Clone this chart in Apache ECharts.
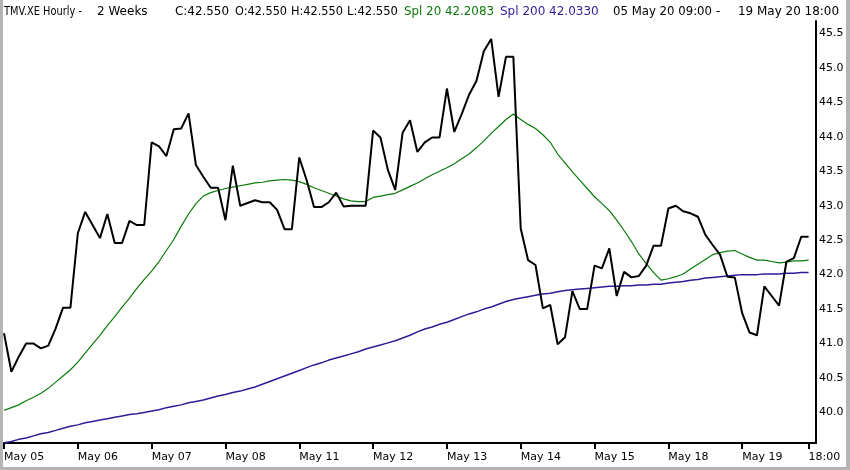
<!DOCTYPE html>
<html><head><meta charset="utf-8">
<script src="https://cdn.jsdelivr.net/npm/echarts@6/dist/echarts.min.js"></script>
<style>
html,body{margin:0;padding:0;background:#fff;}
#c{position:absolute;left:0;top:0;width:850px;height:470px;}
#frame{position:absolute;left:0;top:0;width:850px;height:470px;box-sizing:border-box;border-left:3px solid #b4b4b4;border-right:4px solid #b4b4b4;border-bottom:3px solid #b4b4b4;pointer-events:none;}
</style></head><body><div id="c"></div><div id="frame"></div>
<script>
const days = ['May 05','May 06','May 07','May 08','May 11','May 12','May 13','May 14','May 15','May 18','May 19'];
const hours = ['09:00','10:00','11:00','12:00','13:00','14:00','15:00','16:00','17:00','18:00'];
const closeValues = [
41.15,40.59,40.81,41.00,41.00,40.93,40.97,41.22,41.52,41.52,
42.60,42.91,42.72,42.53,42.88,42.46,42.46,42.78,42.72,42.72,
43.92,43.86,43.72,44.11,44.12,44.34,43.59,43.42,43.26,43.26,
42.79,43.58,43.00,43.04,43.08,43.05,43.05,42.94,42.66,42.66,
43.70,43.37,42.98,42.98,43.05,43.19,42.99,43.00,43.00,43.00,
44.09,43.99,43.52,43.23,44.06,44.24,43.78,43.92,43.99,43.99,
44.70,44.07,44.33,44.61,44.81,45.24,45.42,44.58,45.16,45.16,
42.67,42.21,42.14,41.51,41.56,40.99,41.09,41.76,41.50,41.50,
42.13,42.09,42.38,41.69,42.04,41.96,41.98,42.13,42.42,42.42,
42.96,43.00,42.92,42.89,42.84,42.58,42.43,42.29,41.97,41.96,
41.44,41.16,41.12,41.83,41.69,41.55,42.19,42.24,42.55,42.55];
const spl20Values = [
40.03,40.07,40.11,40.17,40.22,40.28,40.35,40.44,40.53,40.62,
40.73,40.86,40.99,41.12,41.26,41.39,41.53,41.66,41.80,41.93,
42.05,42.19,42.35,42.51,42.70,42.88,43.03,43.14,43.19,43.22,
43.25,43.27,43.29,43.31,43.33,43.34,43.36,43.37,43.38,43.37,
43.35,43.31,43.26,43.22,43.18,43.14,43.10,43.07,43.06,43.06,
43.12,43.14,43.16,43.18,43.23,43.28,43.33,43.39,43.45,43.50,
43.55,43.61,43.68,43.75,43.84,43.94,44.05,44.15,44.25,44.33,
44.25,44.18,44.12,44.03,43.92,43.75,43.62,43.49,43.37,43.25,
43.13,43.03,42.93,42.79,42.64,42.48,42.30,42.16,42.03,41.92,
41.94,41.97,42.01,42.08,42.15,42.22,42.29,42.32,42.34,42.35,
42.30,42.25,42.21,42.21,42.19,42.17,42.18,42.20,42.20,42.21];
const spl200Values = [
39.56,39.58,39.61,39.63,39.66,39.69,39.71,39.74,39.77,39.80,
39.82,39.85,39.87,39.89,39.91,39.93,39.95,39.97,39.98,40.00,
40.02,40.04,40.07,40.09,40.11,40.14,40.16,40.18,40.21,40.24,
40.26,40.29,40.31,40.34,40.37,40.41,40.45,40.49,40.53,40.57,
40.61,40.65,40.69,40.72,40.76,40.79,40.82,40.85,40.88,40.92,
40.95,40.98,41.01,41.04,41.08,41.12,41.17,41.21,41.24,41.28,
41.31,41.35,41.39,41.43,41.46,41.50,41.53,41.57,41.61,41.64,
41.66,41.68,41.70,41.72,41.73,41.75,41.77,41.78,41.79,41.80,
41.81,41.82,41.83,41.83,41.84,41.84,41.85,41.85,41.86,41.86,
41.88,41.89,41.90,41.92,41.93,41.95,41.96,41.97,41.98,41.99,
42.00,42.00,42.00,42.01,42.01,42.01,42.02,42.02,42.03,42.03];
const yTicks = [40.0,40.5,41.0,41.5,42.0,42.5,43.0,43.5,44.0,44.5,45.0,45.5];
const lastLabel = '18:00';
const headerParts = ['TMV.XE Hourly -','2 Weeks','C:42.550','O:42.550','H:42.550','L:42.550','Spl 20 42.2083','Spl 200 42.0330','05 May 20 09:00','-','19 May 20 18:00'];

const categories = [];
days.forEach(d => hours.forEach(h => categories.push(d + ' ' + h)));
categories.push('');
const lastIdx = closeValues.length - 1;
const isTick = i => (i % hours.length === 0 && i < closeValues.length) || i === lastIdx;

const FONT = '"DejaVu Sans", Verdana, sans-serif';
const HFONT = '12px ' + FONT;
// header layout: [left, fitted width, colour]
const headerLayout = [[4,78],[97,60],[175,54],[235,52],[291,52],[347,51],[404,90,'#0a7a0a'],[500,100,'#331a99'],[613,99],[716,5],[738,101]];
const mctx = document.createElement('canvas').getContext('2d');
mctx.font = HFONT;
const graphics = headerParts.map((t, k) => {
  const [left, w, col] = headerLayout[k];
  const mw = mctx.measureText(t).width;
  const sx = Math.min(1, w / mw);
  return {type:'text', x:left, y:6, scaleX:sx, style:{text:t, fill:col || '#000', font:HFONT, textVerticalAlign:'top'}};
});

const chart = echarts.init(document.getElementById('c'), null, {renderer:'canvas'});
chart.setOption({
  animation:false,
  backgroundColor:'#fff',
  grid:{left:4, right:34, top:21, bottom:27, containLabel:false},
  graphic:graphics,
  xAxis:{
    type:'category', data:categories, boundaryGap:false,
    axisLine:{show:true, lineStyle:{color:'#000', width:2}},
    axisTick:{show:true, interval:(i)=>isTick(i), length:6, lineStyle:{color:'#000', width:2}},
    axisLabel:{interval:0, align:'left', margin:9, color:'#000', fontFamily:FONT, fontSize:11,
      formatter:(v, i)=> i === lastIdx ? lastLabel : (i % hours.length === 0 && i < closeValues.length ? days[i / hours.length] : '')},
    splitLine:{show:false}
  },
  yAxis:{
    type:'value', position:'right', min:39.557, max:45.68, scale:true,
    axisLine:{show:true, lineStyle:{color:'#000', width:2}},
    axisTick:{show:false},
    axisLabel:{customValues:yTicks, margin:3, color:'#000', fontFamily:FONT, fontSize:11, formatter:v=>v.toFixed(1)},
    splitLine:{show:false}
  },
  series:[
    {type:'line', data:spl200Values, symbol:'none', lineStyle:{color:'#331a99', width:1.5}, z:2},
    {type:'line', data:spl20Values, symbol:'none', lineStyle:{color:'#0a7a0a', width:1.2}, z:3},
    {type:'line', data:closeValues, symbol:'none', lineStyle:{color:'#000', width:2}, z:4}
  ]
});
</script></body></html>
